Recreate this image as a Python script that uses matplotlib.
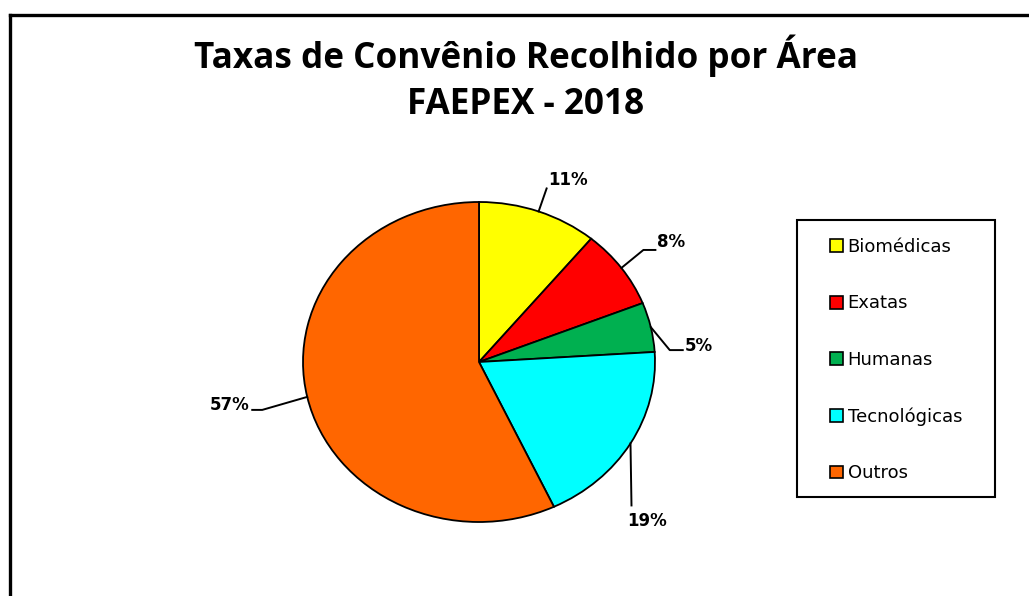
import numpy as np
import matplotlib.pyplot as plt
from matplotlib.patches import Rectangle, Patch
from matplotlib.lines import Line2D

plt.rcParams['font.family'] = ['Lato', 'DejaVu Sans']

categories = ['Biomédicas', 'Exatas', 'Humanas', 'Tecnológicas', 'Outros']
shares = [11, 8, 5, 19, 57]
colors = ['#FFFF00', '#FF0000', '#00B050', '#00FFFF', '#FF6600']
title = 'Taxas de Convênio Recolhido por Área\nFAEPEX - 2018'

W, H = 1029, 596
fig = plt.figure(figsize=(W / 100, H / 100), dpi=100)

def fx(px):
    return px / W

def fy(py):
    return 1 - py / H

# outer frame (cut off at right and bottom like the screenshot)
fig.add_artist(Line2D([fx(10), fx(W)], [fy(15), fy(15)], color='black', lw=2.4))
fig.add_artist(Line2D([fx(10), fx(10)], [fy(15), fy(H)], color='black', lw=2.4))

fig.text(fx(526), fy(79), title, ha='center', va='center', fontsize=25.3,
         fontweight='bold', family=['Open Sans', 'DejaVu Sans'], linespacing=1.36)

# pie, slightly squashed like the original
cx, cy, rx, ry = 479, 362, 176, 160
ax = fig.add_axes([0, 0, 1, 1])
wedges, _ = ax.pie(shares, colors=colors, startangle=90, counterclock=False,
                   wedgeprops=dict(edgecolor='black', linewidth=1.3))
ax.set_aspect('auto')
ax.set_xlim(-cx / rx, (W - cx) / rx)
ax.set_ylim(-(H - cy) / ry, cy / ry)
ax.axis('off')

# leader lines: knee offset from edge (px), horizontal tail, text placement
knee_off = [(8, -23), (22, -18), (19, 23), (1, 62), (-45, 13)]
tail = [0, 12, 13, 0, -10]
txt_off = [(2, -8), (2, -8), (2, -4), (16, 7), (-3, -5)]
txt_align = [('left', 'center'), ('left', 'center'), ('left', 'center'),
             ('center', 'top'), ('right', 'center')]

def to_data(px, py):
    return (px - cx) / rx, (cy - py) / ry

for w, s, ko, t, to, (ha, va) in zip(wedges, shares, knee_off, tail, txt_off, txt_align):
    ang = np.deg2rad((w.theta1 + w.theta2) / 2)
    ex, ey = cx + rx * np.cos(ang), cy - ry * np.sin(ang)
    kx, ky = ex + ko[0], ey + ko[1]
    tx, ty = kx + t, ky
    pts = [to_data(ex, ey), to_data(kx, ky), to_data(tx, ty)]
    ax.plot([p[0] for p in pts], [p[1] for p in pts], color='black', lw=1.4)
    lx, ly = to_data(tx + to[0], ty + to[1])
    ax.text(lx, ly, f'{s}%', ha=ha, va=va, fontsize=12, fontweight='bold',
            family='DejaVu Sans')

# legend box
fig.add_artist(Rectangle((fx(797), fy(497)), fx(995) - fx(797), fy(220) - fy(497),
                         transform=fig.transFigure, fill=False, edgecolor='black', lw=1.5))
handles = [Patch(facecolor=c, edgecolor='black', lw=1.2) for c in colors]
fig.legend(handles, categories, loc='upper left', bbox_to_anchor=(fx(830), fy(238)),
           frameon=False, prop={'family': 'DejaVu Sans', 'size': 13},
           labelspacing=2.13, handlelength=0.72, handleheight=0.72,
           handletextpad=0.25, borderpad=0, borderaxespad=0)

fig.savefig('out.png', dpi=100)
